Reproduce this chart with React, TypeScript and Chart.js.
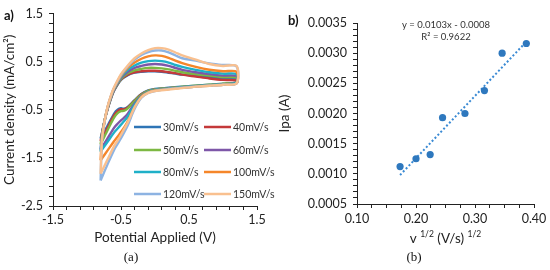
import React, { useEffect, useRef } from 'react';
import { Chart, registerables } from 'chart.js';

Chart.register(...registerables);

// ---------- Panel (a): cyclic voltammograms ----------
const scanRates = ['30mV/s', '40mV/s', '50mV/s', '60mV/s', '80mV/s', '100mV/s', '120mV/s', '150mV/s'];
const seriesColors = ['#2E75B6', '#C4393A', '#7DB843', '#7E57A8', '#1FB0C8', '#F5862A', '#8DB3E2', '#F9C08F'];

// anodic sweep potentials (V), -0.8 -> 1.2
const potentialForward = [-0.8, -0.78, -0.74, -0.7, -0.65, -0.6, -0.5, -0.4, -0.3, -0.2, -0.1, 0.0, 0.1, 0.2, 0.3, 0.4, 0.6, 0.8, 1.0, 1.2];
// cathodic sweep potentials (V), 1.2 -> -0.8
const potentialReverse = [1.2, 1.0, 0.8, 0.6, 0.4, 0.2, 0.0, -0.1, -0.2, -0.3, -0.4, -0.45, -0.5, -0.55, -0.6, -0.7, -0.8];

const forward30 = [-1.10, -0.98, -0.72, -0.50, -0.28, -0.10, 0.12, 0.22, 0.27, 0.29, 0.30, 0.30, 0.29, 0.27, 0.25, 0.23, 0.21, 0.18, 0.15, 0.14];
const forward40 = [-1.15, -1.00, -0.72, -0.50, -0.27, -0.09, 0.13, 0.23, 0.28, 0.30, 0.31, 0.31, 0.30, 0.28, 0.26, 0.23, 0.19, 0.15, 0.12, 0.11];
const forward50 = [-1.22, -1.02, -0.72, -0.49, -0.26, -0.08, 0.14, 0.26, 0.32, 0.35, 0.37, 0.37, 0.36, 0.34, 0.31, 0.28, 0.24, 0.21, 0.18, 0.17];
const forward60 = [-1.33, -1.05, -0.72, -0.48, -0.25, -0.07, 0.16, 0.29, 0.37, 0.41, 0.44, 0.45, 0.44, 0.41, 0.37, 0.33, 0.28, 0.24, 0.21, 0.20];
const forward80 = [-1.37, -1.05, -0.72, -0.47, -0.24, -0.06, 0.18, 0.33, 0.42, 0.48, 0.51, 0.52, 0.51, 0.48, 0.43, 0.39, 0.33, 0.28, 0.25, 0.24];
const forward100 = [-1.55, -1.08, -0.72, -0.46, -0.23, -0.05, 0.20, 0.37, 0.48, 0.56, 0.61, 0.63, 0.62, 0.58, 0.52, 0.47, 0.39, 0.33, 0.30, 0.29];
const forward120 = [-1.97, -1.15, -0.74, -0.46, -0.22, -0.04, 0.22, 0.40, 0.54, 0.64, 0.70, 0.73, 0.73, 0.69, 0.63, 0.57, 0.52, 0.46, 0.43, 0.40];
const forward150 = [-1.83, -1.12, -0.73, -0.45, -0.21, -0.03, 0.24, 0.42, 0.57, 0.67, 0.74, 0.78, 0.78, 0.75, 0.69, 0.63, 0.54, 0.45, 0.41, 0.41];

const reverse30 = [0.07, 0.04, 0.02, 0.00, -0.02, -0.04, -0.07, -0.10, -0.17, -0.30, -0.44, -0.48, -0.47, -0.50, -0.58, -0.84, -1.10];
const reverse40 = [0.06, 0.03, 0.01, -0.01, -0.03, -0.05, -0.08, -0.11, -0.18, -0.31, -0.45, -0.49, -0.49, -0.53, -0.61, -0.88, -1.15];
const reverse50 = [0.07, 0.04, 0.02, 0.00, -0.02, -0.05, -0.08, -0.11, -0.19, -0.32, -0.47, -0.52, -0.53, -0.57, -0.66, -0.93, -1.22];
const reverse60 = [0.06, 0.03, 0.01, -0.01, -0.03, -0.06, -0.09, -0.13, -0.21, -0.37, -0.58, -0.66, -0.72, -0.79, -0.87, -1.10, -1.33];
const reverse80 = [0.06, 0.03, 0.01, -0.01, -0.03, -0.06, -0.09, -0.13, -0.22, -0.40, -0.64, -0.73, -0.81, -0.89, -0.97, -1.17, -1.37];
const reverse100 = [0.05, 0.02, 0.00, -0.02, -0.04, -0.07, -0.10, -0.14, -0.23, -0.45, -0.74, -0.86, -0.96, -1.06, -1.15, -1.35, -1.55];
const reverse120 = [0.05, 0.02, 0.00, -0.02, -0.04, -0.07, -0.11, -0.15, -0.25, -0.48, -0.82, -0.96, -1.09, -1.21, -1.33, -1.64, -1.97];
const reverse150 = [0.05, 0.02, 0.00, -0.02, -0.05, -0.08, -0.11, -0.15, -0.24, -0.45, -0.76, -0.89, -1.02, -1.14, -1.25, -1.54, -1.83];

const forwardCurrents = [forward30, forward40, forward50, forward60, forward80, forward100, forward120, forward150];
const reverseCurrents = [reverse30, reverse40, reverse50, reverse60, reverse80, reverse100, reverse120, reverse150];

const cvXTickLabels = [-1.5, -0.5, 0.5, 1.5];
const cvYTickLabels = [-2.5, -1.5, -0.5, 0.5, 1.5];

// ---------- Panel (b): Ipa vs sqrt(scan rate) ----------
const sqrtScanRate = [0.173, 0.200, 0.224, 0.245, 0.283, 0.316, 0.346, 0.387];
const anodicPeakCurrent = [0.00112, 0.00125, 0.00132, 0.00193, 0.00200, 0.00238, 0.00300, 0.00316];
const trendX = [0.173, 0.387];
const trendY = [0.00098, 0.00319];
const ipXTickLabels = [0.1, 0.2, 0.3, 0.4];
const ipYTickLabels = [0.0005, 0.001, 0.0015, 0.002, 0.0025, 0.003, 0.0035];
const trendEquation = 'y = 0.0103x - 0.0008';
const trendR2 = 'R² = 0.9622';

const FONT = 'Lato, "Open Sans", sans-serif';
const TEXT = '#222222';

const isMajor = (v: number, list: number[], eps: number) => list.some((m) => Math.abs(m - v) < eps);

function axisCommon() {
  return {
    grid: { drawOnChartArea: false, drawTicks: true, tickLength: 4, color: '#222', lineWidth: 1 },
    border: { display: true, color: '#222', width: 1 },
  };
}

function CVChart() {
  const ref = useRef<HTMLCanvasElement | null>(null);
  useEffect(() => {
    if (!ref.current) return;
    const datasets = scanRates.map((label, i) => ({
      label,
      data: [
        ...forwardCurrents[i].map((c, j) => ({ x: potentialForward[j], y: c })),
        ...reverseCurrents[i].map((c, j) => ({ x: potentialReverse[j], y: c })),
      ],
      borderColor: seriesColors[i],
      backgroundColor: seriesColors[i],
      borderWidth: 2.4,
      pointRadius: 0,
      showLine: true,
      tension: 0.3,
      fill: false,
      order: scanRates.length - i,
    }));

    const legendPlugin = {
      id: 'cvLegend',
      afterDraw(chart: any) {
        const ctx = chart.ctx;
        ctx.save();
        const colX = [134, 204];
        const rowY = [127, 150, 172, 194];
        ctx.font = `10.5px ${FONT}`;
        ctx.fillStyle = '#333333';
        ctx.textBaseline = 'middle';
        ctx.textAlign = 'left';
        scanRates.forEach((label, i) => {
          const cx = colX[i % 2];
          const cy = rowY[Math.floor(i / 2)];
          ctx.strokeStyle = seriesColors[i];
          ctx.lineWidth = 2.5;
          ctx.beginPath();
          ctx.moveTo(cx, cy);
          ctx.lineTo(cx + 27, cy);
          ctx.stroke();
          ctx.fillText(label, cx + 29, cy + 0.5);
        });
        ctx.restore();
      },
    };

    const chart = new Chart(ref.current, {
      type: 'scatter',
      data: { datasets },
      options: {
        responsive: false,
        animation: false,
        events: [],
        layout: { padding: { left: 0, top: 10, right: 19, bottom: 0 } },
        plugins: { legend: { display: false }, tooltip: { enabled: false } },
        scales: {
          x: {
            type: 'linear',
            min: -1.5,
            max: 1.5,
            ...axisCommon(),
            afterFit: (s: any) => { s.height = 64; },
            ticks: {
              stepSize: 0.2,
              autoSkip: false,
              maxRotation: 0,
              padding: 2,
              color: TEXT,
              font: { family: FONT, size: 12.5 },
              callback: (v: any) => (isMajor(Number(v), cvXTickLabels, 1e-6) ? Number(v).toFixed(1) : ''),
            },
            title: {
              display: true,
              text: 'Potential Applied (V)',
              color: TEXT,
              font: { family: FONT, size: 13.5 },
              padding: { top: 0, bottom: 24 },
            },
          },
          y: {
            type: 'linear',
            min: -2.5,
            max: 1.5,
            ...axisCommon(),
            afterFit: (s: any) => { s.width = 53; },
            ticks: {
              stepSize: 0.2,
              autoSkip: false,
              padding: 6,
              color: TEXT,
              font: { family: FONT, size: 12.5 },
              callback: (v: any) => (isMajor(Number(v), cvYTickLabels, 1e-6) ? Number(v).toFixed(1) : ''),
            },
            title: {
              display: true,
              text: 'Current density (mA/cm²)',
              color: TEXT,
              font: { family: FONT, size: 13.5 },
              padding: { top: 2, bottom: 0 },
            },
          },
        },
      },
      plugins: [legendPlugin],
    } as any);
    return () => chart.destroy();
  }, []);
  return <canvas ref={ref} width={276} height={270} style={{ position: 'absolute', left: 0, top: 0, width: 276, height: 270 }} />;
}

function IpaChart() {
  const ref = useRef<HTMLCanvasElement | null>(null);
  useEffect(() => {
    if (!ref.current) return;
    const overlay = {
      id: 'ipaOverlay',
      afterDraw(chart: any) {
        const ctx = chart.ctx;
        const area = chart.chartArea;
        ctx.save();
        // trendline label
        ctx.fillStyle = '#333333';
        ctx.textAlign = 'center';
        ctx.textBaseline = 'middle';
        ctx.font = `9.5px ${FONT}`;
        ctx.fillText(trendEquation, 170, 25);
        ctx.fillText(trendR2, 170, 37);
        // x-axis title with superscripts
        const pieces = [
          { t: 'v ', sup: false },
          { t: '1/2', sup: true },
          { t: ' (V/s) ', sup: false },
          { t: '1/2', sup: true },
        ];
        const mainFont = `13.5px ${FONT}`;
        const supFont = `8.5px ${FONT}`;
        let total = 0;
        const widths = pieces.map((p) => {
          ctx.font = p.sup ? supFont : mainFont;
          const w = ctx.measureText(p.t).width;
          total += w;
          return w;
        });
        let x = (area.left + area.right) / 2 - total / 2;
        const y = 239;
        ctx.textAlign = 'left';
        ctx.fillStyle = TEXT;
        pieces.forEach((p, i) => {
          ctx.font = p.sup ? supFont : mainFont;
          ctx.fillText(p.t, x, p.sup ? y - 5 : y);
          x += widths[i];
        });
        ctx.restore();
      },
    };

    const chart = new Chart(ref.current, {
      type: 'scatter',
      data: {
        datasets: [
          {
            label: 'Ipa',
            data: sqrtScanRate.map((x, i) => ({ x, y: anodicPeakCurrent[i] })),
            backgroundColor: '#2E78BE',
            borderColor: '#2E78BE',
            borderWidth: 0,
            pointRadius: 3.6,
            order: 0,
          },
          {
            label: 'Linear trend',
            data: trendX.map((x, i) => ({ x, y: trendY[i] })),
            showLine: true,
            borderColor: '#3A8AD4',
            borderWidth: 2,
            borderDash: [2, 2.2],
            pointRadius: 0,
            fill: false,
            order: 1,
          },
        ],
      },
      options: {
        responsive: false,
        animation: false,
        events: [],
        layout: { padding: { left: 0, top: 23, right: 16, bottom: 0 } },
        plugins: { legend: { display: false }, tooltip: { enabled: false } },
        scales: {
          x: {
            type: 'linear',
            min: 0.1,
            max: 0.4,
            ...axisCommon(),
            afterFit: (s: any) => { s.height = 66; },
            ticks: {
              stepSize: 0.025,
              autoSkip: false,
              maxRotation: 0,
              padding: 3,
              color: TEXT,
              font: { family: FONT, size: 12.5 },
              callback: (v: any) => (isMajor(Number(v), ipXTickLabels, 1e-6) ? Number(v).toFixed(2) : ''),
            },
            title: { display: false },
          },
          y: {
            type: 'linear',
            min: 0.0005,
            max: 0.0035,
            ...axisCommon(),
            afterFit: (s: any) => { s.width = 81; },
            ticks: {
              stepSize: 0.0001,
              autoSkip: false,
              padding: 6,
              color: TEXT,
              font: { family: FONT, size: 12.5 },
              callback: (v: any) => (isMajor(Number(v), ipYTickLabels, 1e-8) ? Number(v).toFixed(4) : ''),
            },
            title: {
              display: true,
              text: 'Ipa (A)',
              color: TEXT,
              font: { family: FONT, size: 13.5 },
              padding: { top: 1, bottom: 0 },
            },
          },
        },
      },
      plugins: [overlay],
    } as any);
    return () => chart.destroy();
  }, []);
  return <canvas ref={ref} width={274} height={270} style={{ position: 'absolute', left: 276, top: 0, width: 274, height: 270 }} />;
}

const labelStyle: React.CSSProperties = {
  position: 'absolute',
  fontFamily: FONT,
  fontWeight: 'bold',
  fontSize: 13,
  color: '#111',
  lineHeight: '14px',
};
const captionStyle: React.CSSProperties = {
  position: 'absolute',
  fontFamily: '"Liberation Serif", "DejaVu Serif", serif',
  fontSize: 13,
  color: '#111',
  lineHeight: '14px',
  transform: 'translateX(-50%)',
};

export default function App() {
  return (
    <div style={{ position: 'fixed', left: 0, top: 0, width: 550, height: 270, background: '#fff', overflow: 'hidden' }}>
      <CVChart />
      <IpaChart />
      <div style={{ ...labelStyle, left: 4, top: 8 }}>a)</div>
      <div style={{ ...labelStyle, left: 288, top: 13 }}>b)</div>
      <div style={{ ...captionStyle, left: 131, top: 250 }}>(a)</div>
      <div style={{ ...captionStyle, left: 414, top: 250 }}>(b)</div>
    </div>
  );
}
